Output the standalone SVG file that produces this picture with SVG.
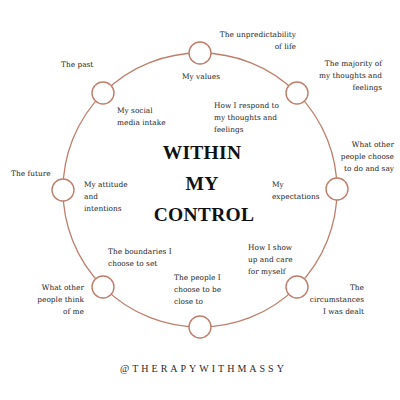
<svg xmlns="http://www.w3.org/2000/svg" width="400" height="400" viewBox="0 0 400 400">
<style>
.ring{fill:none;stroke:#bf7e6c;stroke-width:1.3}
.node{fill:#fff;stroke:#bf7e6c;stroke-width:1.4}
.lbl{font-family:"DejaVu Serif","Liberation Serif",serif;font-size:7.4px;fill:#1c1c1c}
.r{text-anchor:end}
.title{font-family:"Liberation Serif",serif;font-weight:bold;font-size:19.5px;fill:#111;text-anchor:middle;letter-spacing:0.3px}
.handle{font-family:"Liberation Serif",serif;font-size:10px;fill:#2a2a2a;letter-spacing:3px}
</style>
<rect width="400" height="400" fill="#fff"/>
<g id="connectors">
<circle class="ring" cx="200" cy="190" r="137"/>
</g>
<g id="node-top"><circle class="node" cx="200" cy="53" r="11"/></g>
<g id="node-topright"><circle class="node" cx="297" cy="93" r="11"/></g>
<g id="node-right"><circle class="node" cx="337" cy="189" r="11"/></g>
<g id="node-bottomright"><circle class="node" cx="297" cy="287" r="11"/></g>
<g id="node-bottom"><circle class="node" cx="200" cy="327" r="11"/></g>
<g id="node-bottomleft"><circle class="node" cx="103" cy="287" r="11"/></g>
<g id="node-left"><circle class="node" cx="63" cy="190" r="11"/></g>
<g id="node-topleft"><circle class="node" cx="103" cy="93" r="11"/></g>
<g id="title">
<text class="title" x="202" y="159">WITHIN</text>
<text class="title" x="202" y="190">MY</text>
<text class="title" x="204" y="221">CONTROL</text>
</g>
<g id="labels-outside">
<text class="lbl r" x="296" y="37">The unpredictability</text>
<text class="lbl r" x="296" y="49">of life</text>
<text class="lbl r" x="382" y="66">The majority of</text>
<text class="lbl r" x="382" y="78">my thoughts and</text>
<text class="lbl r" x="382" y="90">feelings</text>
<text class="lbl r" x="394" y="147">What other</text>
<text class="lbl r" x="394" y="159">people choose</text>
<text class="lbl r" x="394" y="171">to do and say</text>
<text class="lbl r" x="364" y="290">The</text>
<text class="lbl r" x="364" y="302">circumstances</text>
<text class="lbl r" x="364" y="314">I was dealt</text>
<text class="lbl r" x="84" y="290">What other</text>
<text class="lbl r" x="84" y="302">people think</text>
<text class="lbl r" x="84" y="314">of me</text>
<text class="lbl" x="11" y="176">The future</text>
<text class="lbl" x="61" y="67">The past</text>
</g>
<g id="labels-inside">
<text class="lbl" x="182" y="79">My values</text>
<text class="lbl" x="214" y="108">How I respond to</text>
<text class="lbl" x="214" y="120">my thoughts and</text>
<text class="lbl" x="214" y="132">feelings</text>
<text class="lbl" x="272" y="187">My</text>
<text class="lbl" x="272" y="199">expectations</text>
<text class="lbl" x="248" y="250">How I show</text>
<text class="lbl" x="248" y="262">up and care</text>
<text class="lbl" x="248" y="274">for myself</text>
<text class="lbl" x="174" y="280">The people I</text>
<text class="lbl" x="174" y="292">choose to be</text>
<text class="lbl" x="174" y="304">close to</text>
<text class="lbl" x="108" y="254">The boundaries I</text>
<text class="lbl" x="108" y="266">choose to set</text>
<text class="lbl" x="84" y="187">My attitude</text>
<text class="lbl" x="84" y="199">and</text>
<text class="lbl" x="84" y="211">intentions</text>
<text class="lbl" x="117" y="113">My social</text>
<text class="lbl" x="117" y="125">media intake</text>
</g>
<text class="handle" x="120" y="372">@THERAPYWITHMASSY</text>
</svg>
